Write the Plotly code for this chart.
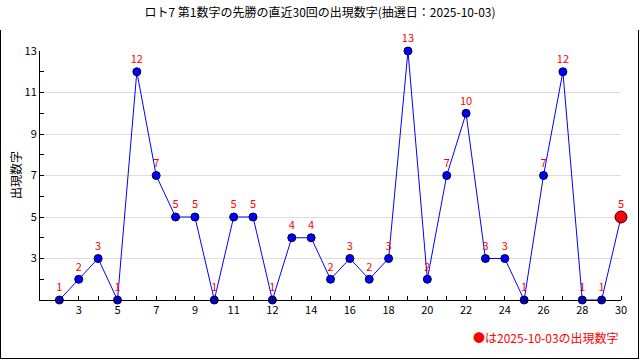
import plotly.graph_objects as go

draws = list(range(1, 31))
values = [1, 2, 3, 1, 12, 7, 5, 5, 1, 5, 5, 1, 4, 4, 2, 3, 2, 3, 13, 2, 7, 10, 3, 3, 1, 7, 12, 1, 1, 5]
tick_positions = [2, 4, 6, 8, 10, 12, 14, 16, 18, 20, 22, 24, 26, 28, 30]
tick_labels = ["3", "5", "7", "9", "11", "12", "14", "16", "18", "20", "22", "24", "26", "28", "30"]
y_ticks = [3, 5, 7, 9, 11, 13]
title = "ロト7 第1数字の先勝の直近30回の出現数字(抽選日：2025-10-03)"
y_title = "出現数字"
legend_text = "●は2025-10-03の出現数字"

FONT = "Noto Sans CJK JP, DejaVu Sans, sans-serif"

fig = go.Figure()
fig.add_trace(go.Scatter(
    x=draws, y=values, mode="lines+markers+text",
    line=dict(color="#0000ff", width=1),
    marker=dict(color="#0000ff", size=8, line=dict(color="#000033", width=1)),
    text=[str(v) for v in values], textposition="top center",
    textfont=dict(color="#ff0000", size=11, family=FONT),
    cliponaxis=False, showlegend=False, hoverinfo="x+y",
))
fig.add_trace(go.Scatter(
    x=[draws[-1]], y=[values[-1]], mode="markers",
    marker=dict(color="#ff0000", size=12, line=dict(color="#330000", width=1)),
    cliponaxis=False, showlegend=False,
))

W, H = 640, 360
L, R, T, B = 40, 19, 51, 60
pw, ph = W - L - R, H - T - B

def px(x):
    return (x - L) / pw

def py(y):
    return (H - B - y) / ph

fig.update_layout(
    width=W, height=H,
    margin=dict(l=L, r=R, t=T, b=B, autoexpand=False),
    paper_bgcolor="white", plot_bgcolor="white",
    font=dict(family=FONT, size=11, color="#000000"),
    title=dict(text=title, x=0.5, xanchor="center", y=1 - 13 / H, yanchor="middle",
               automargin=False, font=dict(size=12, family=FONT, color="#000000")),
    xaxis=dict(range=[0, 30], tickmode="array", tickvals=tick_positions, ticktext=tick_labels,
               automargin=False,
               showgrid=False, zeroline=False, showline=True, linecolor="black", linewidth=1,
               ticks="", tickfont=dict(size=11, family=FONT),
               minor=dict(tickmode="array", tickvals=draws, ticks="inside", ticklen=4,
                          tickcolor="black", showgrid=False)),
    yaxis=dict(range=[1, 13], tickmode="array", tickvals=y_ticks, automargin=False,
               showgrid=True, gridcolor="#dddddd", gridwidth=1, zeroline=False,
               showline=True, linecolor="black", linewidth=1,
               ticks="inside", ticklen=4, tickcolor="black", tickfont=dict(size=11, family=FONT),
               minor=dict(tickmode="array", tickvals=list(range(1, 14)), ticks="inside",
                          ticklen=4, tickcolor="black", showgrid=False)),
    annotations=[
        dict(text=legend_text, xref="paper", yref="paper", x=px(621), y=py(337),
             xanchor="right", yanchor="middle", showarrow=False,
             font=dict(color="#ff0000", size=12, family=FONT)),
        dict(text=y_title, xref="paper", yref="paper", x=px(15), y=py(175),
             xanchor="center", yanchor="middle", textangle=-90, showarrow=False,
             font=dict(color="#000000", size=12, family=FONT)),
    ],
)

frame_js = (
    "document.body.style.margin='0';document.body.style.overflow='hidden';"
    "var f=document.createElement('div');"
    "f.style.cssText='position:absolute;left:0;top:30px;width:637px;height:328px;"
    "border:1px solid #000;border-top:none;pointer-events:none;z-index:10;';"
    "document.body.appendChild(f);"
)

fig.write_html("out.html", config={"displayModeBar": False}, post_script=frame_js)
